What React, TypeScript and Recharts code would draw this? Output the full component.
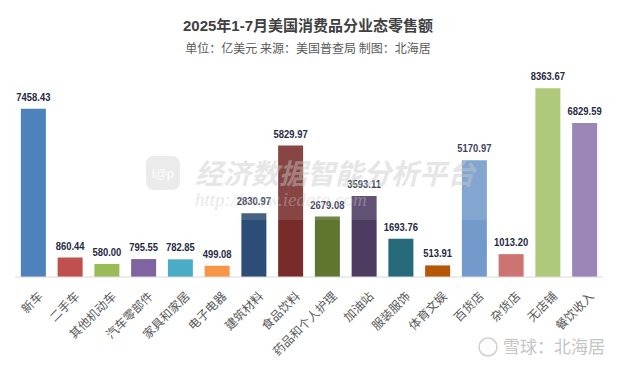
import React from 'react';
import { BarChart, Bar, XAxis, YAxis, Cell, LabelList } from 'recharts';

const categories = ['新车', '二手车', '其他机动车', '汽车零部件', '家具和家居', '电子电器', '建筑材料', '食品饮料', '药品和个人护理', '加油站', '服装服饰', '体育文娱', '百货店', '杂货店', '无店铺', '餐饮收入'];
const values = [7458.43, 860.44, 580.0, 795.55, 782.85, 499.08, 2830.97, 5829.97, 2679.08, 3593.11, 1693.76, 513.91, 5170.97, 1013.2, 8363.67, 6829.59];
const colors = ['#4f81bd', '#c0504d', '#9bbb59', '#8064a2', '#4bacc6', '#f79646', '#2c4d75', '#772c2a', '#5f7530', '#4d3b62', '#276a7c', '#b65708', '#729aca', '#cd7371', '#afc97a', '#9c86b8'];

const data = categories.map((name, i) => ({ name, value: values[i] }));

const W = 617;
const H = 367;

const Tick = (props: any) => {
  const { x, y, payload } = props;
  return (
    <text
      transform={`translate(${x + 10},${y + 12}) rotate(-45)`}
      textAnchor="end"
      fontSize={12}
      fill="#595959"
      fontFamily="'Noto Sans CJK SC', sans-serif"
    >
      {payload.value}
    </text>
  );
};

const ValueLabel = (props: any) => {
  const { x, y, width, value } = props;
  const cx = Number(x) + Number(width) / 2;
  const ty = Number(y) - 8;
  return (
    <text
      transform={`translate(${cx},${ty}) scale(0.82,1)`}
      textAnchor="middle"
      fontSize={11.5}
      fontWeight="bold"
      fill="#1f2a44"
      fontFamily="'Liberation Sans', Arial, sans-serif"
    >
      {Number(value).toFixed(2)}
    </text>
  );
};

export default function App() {
  return (
    <div style={{ position: 'relative', width: W, height: H, background: '#fff', overflow: 'hidden' }}>
      <style>{`body{margin:0}`}</style>
      <BarChart
        width={W}
        height={H}
        data={data}
        margin={{ top: 74, right: 14, bottom: 10, left: 15 }}
        barCategoryGap="16%"
      >
        <XAxis
          dataKey="name"
          interval={0}
          tick={<Tick />}
          tickLine={false}
          axisLine={{ stroke: '#d9d9d9' }}
          height={80}
        />
        <YAxis hide domain={[0, 9000]} />
        <Bar dataKey="value" isAnimationActive={false}>
          {data.map((d, i) => (
            <Cell key={d.name} fill={colors[i]} />
          ))}
          <LabelList dataKey="value" content={<ValueLabel />} />
        </Bar>
      </BarChart>
      <svg width={W} height={H} style={{ position: 'absolute', left: 0, top: 0, pointerEvents: 'none' }}>
        <text x={308} y={31} textAnchor="middle" fontSize={15} fontWeight="bold" fill="#404040" fontFamily="'Liberation Sans', 'Noto Sans CJK SC', sans-serif">
          2025年1-7月美国消费品分业态零售额
        </text>
        <text x={308} y={53} textAnchor="middle" fontSize={12} fill="#595959" fontFamily="'Noto Sans CJK SC', sans-serif">
          单位：亿美元 来源：美国普查局 制图：北海居
        </text>
        <rect x={140} y={138} width={360} height={82} fill="#ffffff" opacity={0.12} />
        <rect x={146} y={156} width={34} height={34} rx={8} fill="#d8d8d8" opacity={0.5} />
        <text x={163} y={178} textAnchor="middle" fontSize={12} fontWeight="bold" fill="#ffffff" opacity={0.8} fontFamily="'Liberation Sans', sans-serif">
          i@p
        </text>
        <text x={195} y={184} fontSize={28} fontWeight="bold" fontStyle="italic" fill="#c8c8c8" opacity={0.45} fontFamily="'Noto Sans CJK SC', sans-serif">
          经济数据智能分析平台
        </text>
        <text x={195} y={206} fontSize={19} fontStyle="italic" fill="#c8c8c8" opacity={0.4} fontFamily="'Liberation Serif', serif">
          http://www.iedata.com
        </text>
        <circle cx={488} cy={347} r={9} fill="none" stroke="#cfcfcf" strokeWidth={1.5} />
        <text x={503} y={353} fontSize={17} fill="#c4c4c4" fontFamily="'Noto Sans CJK SC', sans-serif">
          雪球：北海居
        </text>
      </svg>
    </div>
  );
}
